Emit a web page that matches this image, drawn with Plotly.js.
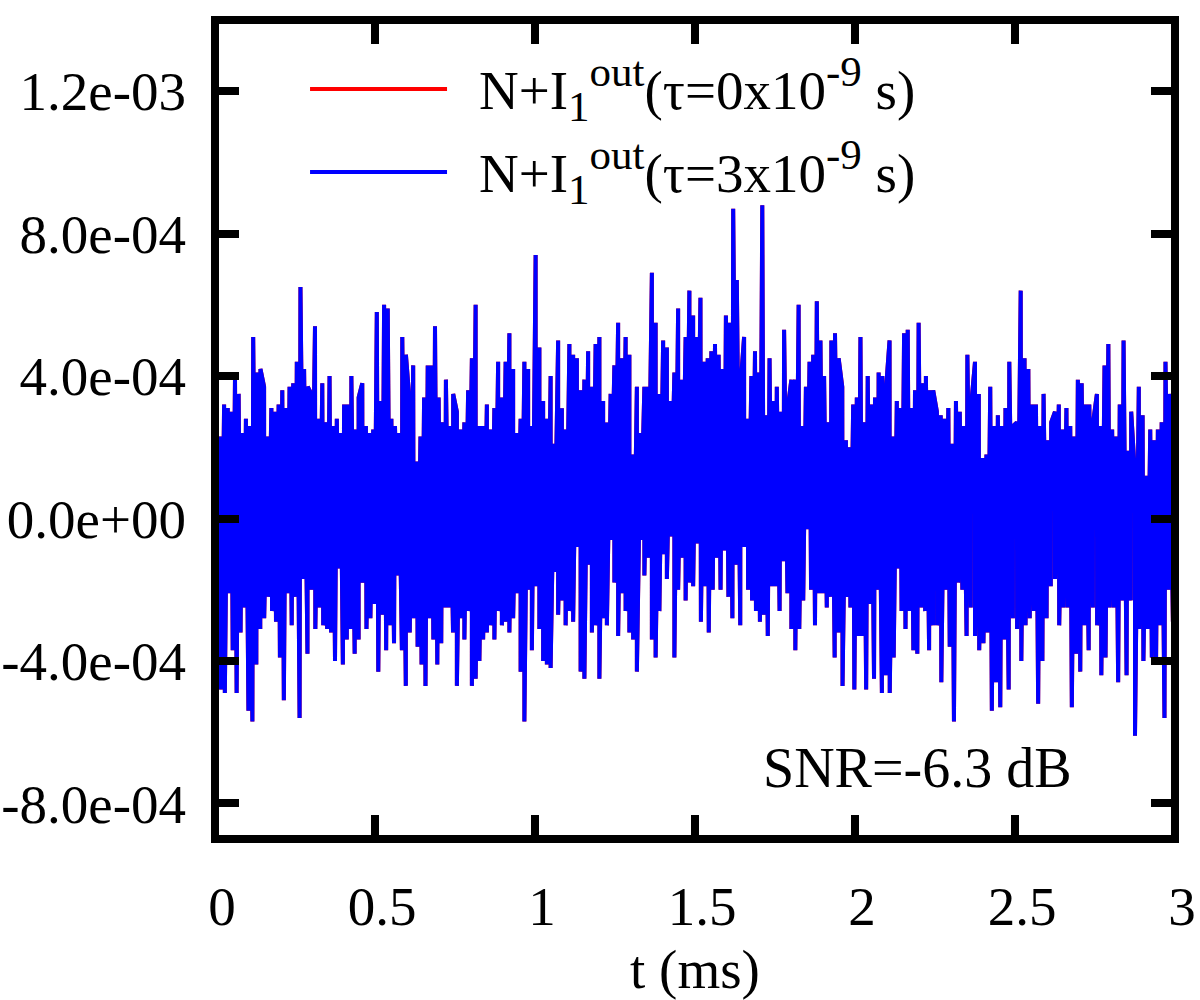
<!DOCTYPE html>
<html>
<head>
<meta charset="utf-8">
<script src="https://cdn.plot.ly/plotly-3.0.1.min.js"></script>
<style>
  html, body { margin: 0; padding: 0; background: #fff; }
  #chart { width: 1200px; height: 1000px; }
</style>
</head>
<body>
<div id="chart"></div>
<script>
// Values, in units of 1e-4 (upper spikes and lower spikes per 0.75 ms segment)
const UNIT = 1e-4;
const segmentStarts = [0, 0.75, 1.5, 2.25];
const segmentLength = 0.75;

const upper1 = [2.5,2.3,3.2,3.1,3.0,4.0,3.5,2.4,2.8,2.6,5.1,4.1,4.2,3.7,2.3,3.1,3.0,3.2,3.6,3.1,3.7,3.8,4.4,6.5,4.2,3.7,3.5,5.4,2.8,3.8,2.7,4.0,2.6,2.8,2.4,3.2,3.2,4.0,2.5,3.4,3.8,2.6,2.4,2.5,5.8,3.3,6.0,5.9,2.8,2.6,2.4,5.1,4.6,3.3,4.3,1.6,2.3,3.4,4.3,4.3,5.4,3.4,2.7,3.9,2.6,3.5];
const lower1 = [-2.8,-4.8,-4.9,-2.1,-3.7,-4.9,-3.2,-2.5,-5.4,-5.7,-4.1,-3.1,-2.8,-2.2,-2.6,-2.9,-3.9,-5.1,-2.1,-3.0,-2.2,-5.6,-1.7,-3.8,-2.0,-3.1,-2.5,-3.0,-3.1,-3.2,-4.0,-1.4,-4.1,-3.4,-3.1,-3.8,-3.4,-1.8,-3.1,-2.8,-2.4,-4.3,-2.7,-3.7,-3.0,-3.5,-1.6,-3.7,-4.7,-3.2,-2.8,-3.6,-4.1,-4.7,-2.8,-3.4,-4.1,-3.5,-2.5,-2.5,-3.2];

const upper2 = [3.0,2.5,2.7,3.6,4.5,6.0,2.6,2.6,3.2,2.5,3.1,4.4,3.4,4.4,5.2,4.2,2.4,2.8,4.4,4.2,2.6,7.4,4.8,3.3,2.8,4.0,2.1,5.0,3.1,2.5,4.9,4.6,4.5,3.6,3.9,4.7,3.7,4.9,5.1,3.3,2.7,3.5,4.3,5.5,4.5,5.1,4.6,1.8,3.7,2.4,3.7,3.7,6.9,5.5,3.5,5.0,4.8,3.3,4.1,5.9,3.9,5.1,6.4,5.7];
const lower2 = [-4.7,-2.8,-3.4,-2.6,-4.7,-4.5,-4.0,-3.4,-3.2,-3.0,-3.4,-2.6,-3.0,-2.9,-3.2,-2.8,-2.1,-4.3,-5.7,-2.0,-3.7,-1.9,-3.1,-4.0,-4.1,-4.2,-1.5,-2.7,-2.3,-3.0,-2.6,-2.9,-0.8,-4.3,-4.5,-1.3,-3.2,-3.0,-4.5,-2.8,-3.0,-0.6,-1.8,-3.3,-2.1,-2.6,-3.2,-3.4,-4.3,-0.6,-1.6,-1.1,-3.4,-3.9,-2.6,-1.0,-1.7,-0.5,-3.9,-2.0,-1.1,-2.3,-1.8,-1.9];

const upper3 = [5.1,6.2,4.4,4.5,4.7,4.9,4.6,4.2,5.7,5.5,8.7,6.7,3.7,5.1,2.8,4.0,4.7,4.1,8.8,2.9,4.5,3.3,3.7,3.0,5.3,3.1,3.9,3.9,6.0,2.6,3.7,4.4,4.6,6.1,5.0,4.0,2.7,5.0,5.2,4.5,3.7,2.2,2.0,3.2,3.4,5.1,2.7,4.0,3.2,3.4,4.1,4.0,3.6,5.0,2.3,3.3,3.1,5.2,5.3,3.1,3.6,5.5,3.8,4.0,3.6,3.6];
const lower3 = [-0.7,-2.9,-1.9,-3.2,-2.0,-1.1,-2.0,-0.9,-2.2,-2.8,-1.3,-3.0,-0.8,-2.0,-2.3,-2.6,-2.9,-2.7,-3.3,-1.9,-1.9,-2.6,-1.2,-2.1,-3.1,-3.7,-3.1,-2.3,-0.3,-2.0,-3.0,-2.1,-2.1,-2.5,-2.2,-3.9,-3.2,-4.7,-2.2,-2.5,-4.8,-3.3,-3.3,-4.8,-2.4,-4.5,-2.0,-4.9,-4.4,-4.9,-3.9,-1.4,-2.6,-3.1,-2.6,-3.7,-3.8,-2.5,-2.6,-3.7,-3.0];

const upper4 = [3.0,2.9,2.8,3.1,2.1,3.3,3.0,2.6,4.6,3.2,4.4,3.5,1.7,1.8,3.7,2.6,2.9,2.6,3.1,4.4,2.6,2.7,6.4,4.5,4.2,3.2,3.2,2.6,3.5,2.2,2.7,3.0,3.2,2.5,3.1,2.6,2.3,3.9,3.8,3.2,3.2,2.7,3.5,2.6,4.3,4.9,2.5,2.3,3.2,5.0,1.9,3.0,1.2,3.7,2.9,1.2,2.5,2.2,2.5,2.7,4.4,3.5,3.5];
const lower4 = [-3.0,-4.6,-2.0,-3.6,-5.7,-1.8,-2.0,-3.3,-2.5,-3.3,-3.7,-3.5,-3.2,-5.4,-4.6,-5.3,-3.4,-4.8,-2.8,-3.1,-4.0,-3.0,-2.8,-2.6,-5.2,-4.0,-2.8,-1.9,-1.7,-3.0,-2.5,-2.5,-5.3,-3.8,-4.3,-3.0,-3.7,-2.5,-3.0,-4.4,-3.9,-2.5,-2.5,-4.6,-2.3,-4.4,-2.3,-6.1,-3.1,-4.0,-3.1,-3.9,-4.1,-3.0,-5.6,-2.0,-2.9];

const uppers = [upper1, upper2, upper3, upper4];
const lowers = [lower1, lower2, lower3, lower4];

const xTickVals = [0, 0.5, 1, 1.5, 2, 2.5, 3];
const xTickText = ['0', '0.5', '1', '1.5', '2', '2.5', '3'];
const yTickVals = [-8e-4, -4e-4, 0, 4e-4, 8e-4, 1.2e-3];
const yTickText = ['-8.0e-04', '-4.0e-04', '0.0e+00', '4.0e-04', '8.0e-04', '1.2e-03'];

const SIZED = (s, px) => '<span style="font-size:' + px + 'px">' + s + '</span>';
const MAIN = (s) => SIZED(s, 55);
const SMALL = (s) => SIZED(s, 43);
const legendLabel = (tau) =>
  MAIN('N+I') + '<sub>' + SMALL('1') + '</sub><sup>' + SMALL('out') + '</sup>' +
  MAIN('(τ=' + tau + 'x10') + '<sup>' + SMALL('-9') + '</sup>' + MAIN(' s)');
const seriesNames = [legendLabel('0'), legendLabel('3')];
const seriesColors = ['#ff0000', '#0000ff'];

// Build the sample table: each segment's readings spread in time order
const t = [], v = [];
segmentStarts.forEach((t0, k) => {
  const pts = [];
  uppers[k].forEach((val, i) => pts.push([t0 + (i + 0.5) / uppers[k].length * segmentLength, val * UNIT]));
  lowers[k].forEach((val, i) => pts.push([t0 + (i + 0.5) / lowers[k].length * segmentLength, val * UNIT]));
  pts.sort((a, b) => a[0] - b[0]);
  pts.forEach(p => { t.push(p[0]); v.push(p[1]); });
});

const FONT = 'Liberation Serif, Times New Roman, serif';

const traces = seriesNames.map((name, i) => ({
  x: t, y: v, type: 'scatter', mode: 'lines', name: name,
  line: { color: seriesColors[i], width: 4, simplify: false },
  showlegend: false
}));

// legend drawn like gnuplot's (long line samples)
const legendRowsY = [0.9158, 0.8144];
const shapes = [
  { type: 'rect', xref: 'paper', yref: 'paper', x0: 0, x1: 1, y0: 0, y1: 1,
    line: { color: '#000', width: 8 }, layer: 'above' }
];
const annotations = [];
legendRowsY.forEach((yy, i) => {
  shapes.push({ type: 'line', xref: 'paper', yref: 'paper', x0: 0.099, x1: 0.2417, y0: yy, y1: yy,
    line: { color: seriesColors[i], width: 4 } });
  annotations.push({ xref: 'paper', yref: 'paper', x: 0.2729, y: yy, xanchor: 'left', yanchor: 'middle',
    text: seriesNames[i], showarrow: false, font: { family: FONT, size: 55, color: '#000' } });
});
annotations.push({ xref: 'paper', yref: 'paper', x: 0.5688, y: 0.087, xanchor: 'left', yanchor: 'middle',
  text: 'SNR=-6.3 dB', showarrow: false, font: { family: FONT, size: 56, color: '#000' } });

const layout = {
  width: 1200, height: 1000,
  margin: { l: 215, r: 25, t: 20, b: 161, pad: 0 },
  paper_bgcolor: '#fff', plot_bgcolor: '#fff',
  font: { family: FONT, size: 55, color: '#000' },
  showlegend: false,
  xaxis: {
    range: [0, 3], tickmode: 'array', tickvals: xTickVals, ticktext: xTickText,
    ticks: 'inside', ticklen: 24, tickwidth: 8, tickcolor: '#000', mirror: 'ticks',
    showline: false, showgrid: false, zeroline: false,
    tickfont: { family: FONT, size: 55, color: '#000' },
    ticklabelstandoff: 30, ticklabelshift: 7,
    title: { text: 't (ms)', font: { family: FONT, size: 55, color: '#000' }, standoff: 18 }
  },
  yaxis: {
    range: [-9e-4, 1.4e-3], tickmode: 'array', tickvals: yTickVals, ticktext: yTickText,
    ticks: 'inside', ticklen: 24, tickwidth: 8, tickcolor: '#000', mirror: 'ticks',
    showline: false, showgrid: false, zeroline: false,
    tickfont: { family: FONT, size: 55, color: '#000' },
    ticklabelstandoff: 28
  },
  shapes: shapes,
  annotations: annotations
};

Plotly.newPlot('chart', traces, layout, { displayModeBar: false });
</script>
</body>
</html>
